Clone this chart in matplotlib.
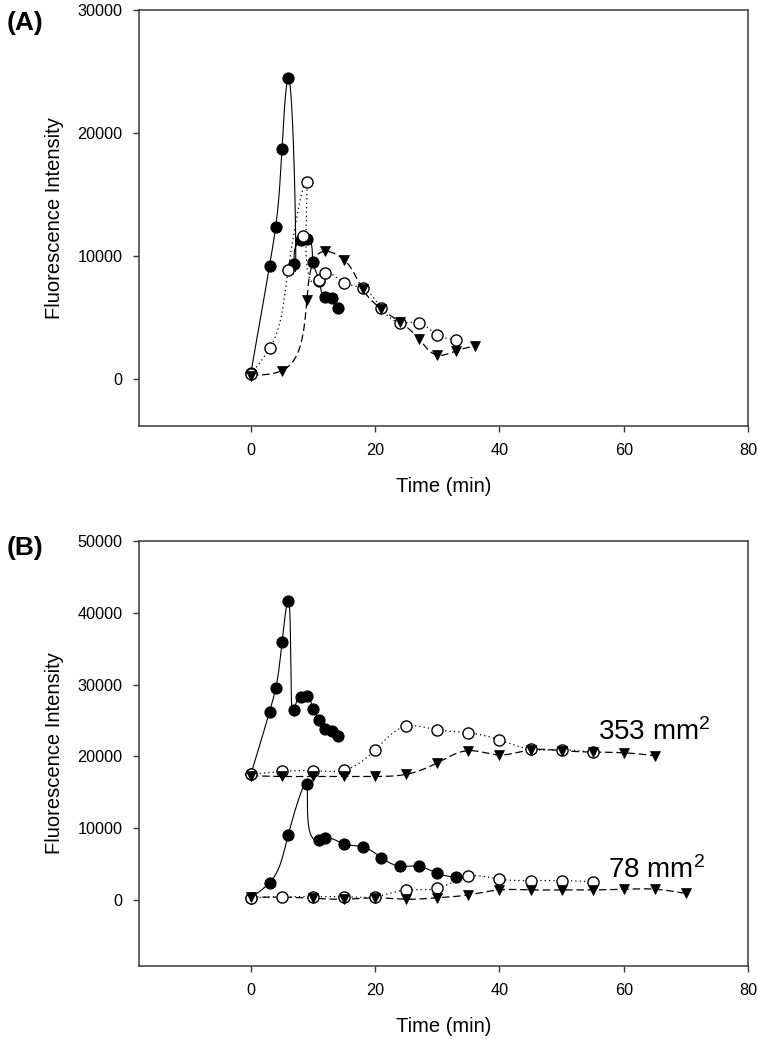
import numpy as np
import matplotlib
matplotlib.use("Agg")
import matplotlib.pyplot as plt

plt.rcParams['font.family'] = ['Liberation Sans', 'DejaVu Sans']
plt.rcParams['mathtext.fontset'] = 'custom'
plt.rcParams['mathtext.rm'] = 'Liberation Sans'

# ---------------- data ----------------
# Panel A
a_filled_t = [0, 3, 4, 5, 6, 7, 8, 9, 10, 11, 12, 13, 14]
a_filled_v = [500, 9200, 12400, 18700, 24500, 9400, 11300, 11400, 9500, 8000, 6700, 6600, 5800]
a_open_t = [0, 3, 6, 9, 11, 12, 15, 18, 21, 24, 27, 30, 33]
a_open_v = [400, 2500, 8900, 16000, 8100, 8600, 7850, 7400, 5750, 4600, 4600, 3600, 3200]
a_open_extra_t = [8.4]
a_open_extra_v = [11600]
a_tri_t = [0, 5, 9, 12, 15, 18, 21, 24, 27, 30, 33, 36]
a_tri_v = [300, 700, 6400, 10400, 9700, 7300, 5700, 4650, 3300, 1950, 2300, 2700]

# Panel B, 353 mm2
b353_filled_t = [0, 3, 4, 5, 6, 7, 8, 9, 10, 11, 12, 13, 14]
b353_filled_v = [17500, 26200, 29500, 35900, 41700, 26400, 28300, 28400, 26600, 25100, 23800, 23500, 22900]
b353_open_t = [0, 5, 10, 15, 20, 25, 30, 35, 40, 45, 50, 55]
b353_open_v = [17500, 17900, 18000, 18100, 20900, 24200, 23700, 23300, 22300, 21000, 20900, 20600]
b353_tri_t = [0, 5, 10, 15, 20, 25, 30, 35, 40, 45, 50, 55, 60, 65]
b353_tri_v = [17300, 17200, 17200, 17200, 17200, 17500, 19100, 20800, 20200, 20900, 20800, 20600, 20500, 20100]

# Panel B, 78 mm2
b78_filled_t = [0, 3, 6, 9, 11, 12, 15, 18, 21, 24, 27, 30, 33]
b78_filled_v = [300, 2400, 9000, 16100, 8300, 8600, 7800, 7400, 5900, 4700, 4700, 3700, 3150]
b78_open_t = [0, 5, 10, 15, 20, 25, 30, 35, 40, 45, 50, 55]
b78_open_v = [300, 450, 450, 450, 450, 1400, 1600, 3300, 2900, 2700, 2700, 2550]
b78_tri_t = [0, 10, 15, 20, 25, 30, 35, 40, 45, 50, 55, 60, 65, 70]
b78_tri_v = [400, 250, 100, 300, 100, 300, 700, 1400, 1400, 1400, 1400, 1500, 1500, 900]

x_ticks = [0, 20, 40, 60, 80]
a_yticks = [0, 10000, 20000, 30000]
b_yticks = [0, 10000, 20000, 30000, 40000, 50000]
label_353 = '353 mm$\\mathregular{^2}$'
label_78 = '78 mm$\\mathregular{^2}$'

# ---------------- helpers ----------------
def natural_spline(s, y, ss):
    n = len(s)
    h = np.diff(s)
    A = np.zeros((n, n))
    r = np.zeros(n)
    A[0, 0] = 1.0
    A[-1, -1] = 1.0
    for i in range(1, n - 1):
        A[i, i - 1] = h[i - 1]
        A[i, i] = 2 * (h[i - 1] + h[i])
        A[i, i + 1] = h[i]
        r[i] = 3 * ((y[i + 1] - y[i]) / h[i] - (y[i] - y[i - 1]) / h[i - 1])
    c = np.linalg.solve(A, r)
    b = (y[1:] - y[:-1]) / h - h * (2 * c[:-1] + c[1:]) / 3
    d = (c[1:] - c[:-1]) / (3 * h)
    idx = np.clip(np.searchsorted(s, ss, side='right') - 1, 0, n - 2)
    dx = ss - s[idx]
    return y[idx] + b[idx] * dx + c[idx] * dx ** 2 + d[idx] * dx ** 3


def spline_curve(ax, t, v):
    pts = ax.transData.transform(np.column_stack([t, v]))
    seg = np.sqrt((np.diff(pts, axis=0) ** 2).sum(axis=1))
    s = np.concatenate([[0.0], np.cumsum(seg)])
    ss = np.linspace(0, s[-1], 800)
    px = natural_spline(s, pts[:, 0], ss)
    py = natural_spline(s, pts[:, 1], ss)
    back = ax.transData.inverted().transform(np.column_stack([px, py]))
    return back[:, 0], back[:, 1]


def draw_markers(ax, t, v, kind):
    if kind == 'filled':
        ax.plot(t, v, 'o', ms=8, mfc='black', mec='black', mew=0.8, ls='none', zorder=3)
    elif kind == 'open':
        ax.plot(t, v, 'o', ms=8, mfc='white', mec='black', mew=1.0, ls='none', zorder=4)
    else:
        ax.plot(t, v, 'v', ms=7.5, mfc='black', mec='black', mew=0.5, ls='none', zorder=5)


def draw_series(ax, t, v, kind):
    xs, ys = spline_curve(ax, t, v)
    if kind == 'filled':
        ax.plot(xs, ys, color='black', lw=0.8, zorder=2)
    elif kind == 'open':
        ax.plot(xs, ys, color='black', lw=0.9, dashes=(1, 2.5), zorder=2)
    else:
        ax.plot(xs, ys, color='black', lw=0.9, dashes=(6, 3), zorder=2)
    draw_markers(ax, t, v, kind)


def style_axes(ax, yticks):
    for sp in ax.spines.values():
        sp.set_color('#3a3a3a')
        sp.set_linewidth(1.1)
    ax.set_xticks(x_ticks)
    ax.set_yticks(yticks)
    ax.tick_params(direction='out', length=4, width=1.0, color='#3a3a3a',
                   labelsize=11.7, pad=8, top=False, right=False)
    ax.set_xlabel('Time (min)', fontsize=14.5, labelpad=14)


W, H = 758, 1039
fig = plt.figure(figsize=(W / 100, H / 100), dpi=100)

left = 139 / W
width = (748 - 139) / W
axA = fig.add_axes([left, 1 - 426 / H, width, (426 - 10) / H])
axB = fig.add_axes([left, 1 - 966 / H, width, (966 - 541) / H])

axA.set_xlim(-18, 80)
axA.set_ylim(-3800, 30000)
axB.set_xlim(-18, 80)
axB.set_ylim(-9200, 50000)

draw_series(axA, a_filled_t, a_filled_v, 'filled')
draw_series(axA, a_open_t, a_open_v, 'open')
draw_markers(axA, a_open_extra_t, a_open_extra_v, 'open')
draw_series(axA, a_tri_t, a_tri_v, 'tri')

draw_series(axB, b353_filled_t, b353_filled_v, 'filled')
draw_series(axB, b353_open_t, b353_open_v, 'open')
draw_series(axB, b353_tri_t, b353_tri_v, 'tri')
draw_series(axB, b78_filled_t, b78_filled_v, 'filled')
draw_series(axB, b78_open_t, b78_open_v, 'open')
draw_series(axB, b78_tri_t, b78_tri_v, 'tri')

style_axes(axA, a_yticks)
style_axes(axB, b_yticks)

axB.text(55.9, 22300, label_353, fontsize=20, ha='left', va='baseline')
axB.text(57.4, 3100, label_78, fontsize=20, ha='left', va='baseline')

fig.text(55 / W, 1 - 218 / H, 'Fluorescence Intensity', rotation=90,
         ha='center', va='center', fontsize=14.5)
fig.text(55 / W, 1 - 753 / H, 'Fluorescence Intensity', rotation=90,
         ha='center', va='center', fontsize=14.5)

fig.text(25 / W, 1 - 23 / H, '(A)', ha='center', va='center', fontsize=19, fontweight='bold')
fig.text(25 / W, 1 - 548 / H, '(B)', ha='center', va='center', fontsize=19, fontweight='bold')

fig.savefig('out.png', dpi=100)
